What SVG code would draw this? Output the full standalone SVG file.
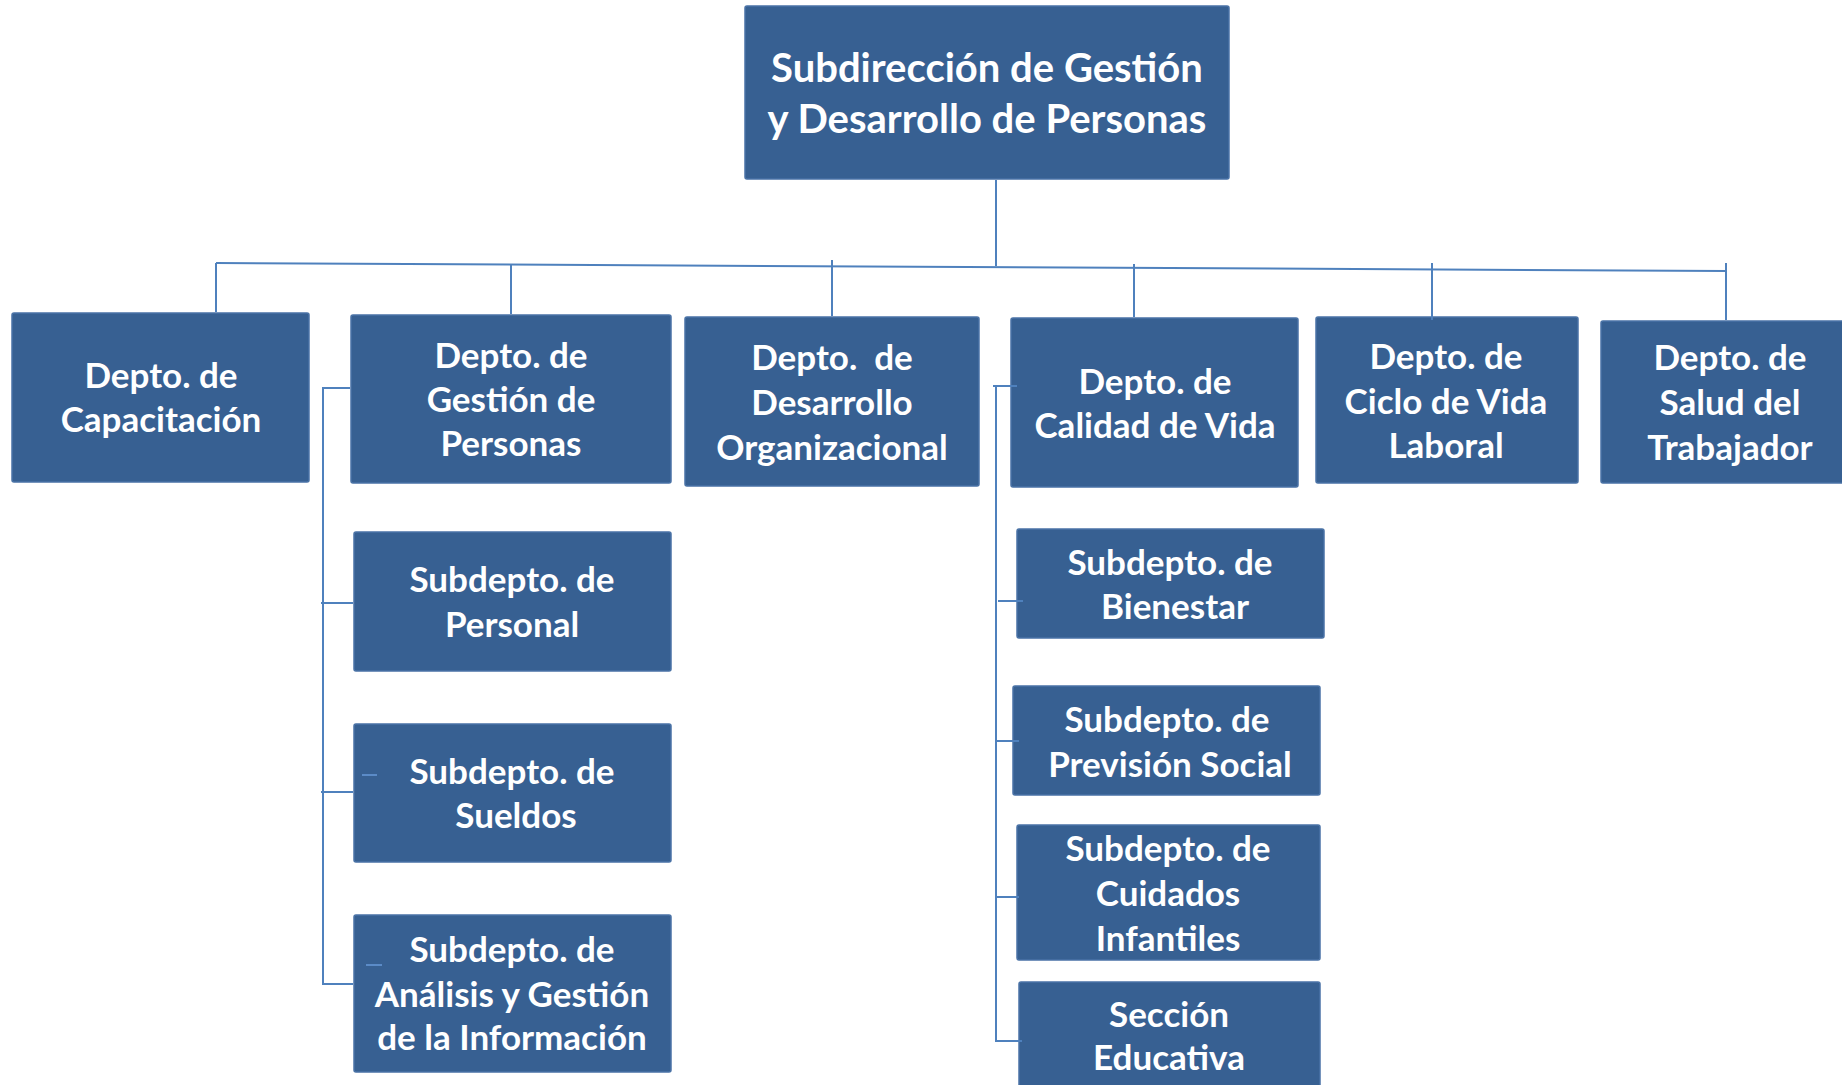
<svg xmlns="http://www.w3.org/2000/svg" width="1842" height="1085" viewBox="0 0 1842 1085">
<style>
.box{fill:#376092;stroke:#4a72a6;stroke-width:1.5}
.t{fill:#ffffff;font-family:Lato,"Open Sans","Liberation Sans",sans-serif;font-weight:bold;font-size:35px;text-anchor:middle}
.tt{font-size:40px}
.c{stroke:#4f81bd;stroke-width:2;fill:none}
.d{stroke:#5b8bc7;stroke-width:2;fill:none}
</style>
<rect width="1842" height="1085" fill="#ffffff"/>
<g id="n0"><rect class="box" x="745" y="6" width="484" height="173" rx="2"/>
<text class="t tt" x="987" y="82">Subdirección de Gestión</text>
<text class="t tt" x="987" y="133">y Desarrollo de Personas</text></g>
<g id="n1"><rect class="box" x="12" y="313" width="297" height="169" rx="2"/>
<text class="t" x="161" y="388">Depto. de</text>
<text class="t" x="161" y="432">Capacitación</text></g>
<g id="n2"><rect class="box" x="351" y="315" width="320" height="168" rx="2"/>
<text class="t" x="511" y="368">Depto. de</text>
<text class="t" x="511" y="412">Gestión de</text>
<text class="t" x="511" y="456">Personas</text></g>
<g id="n3"><rect class="box" x="685" y="317" width="294" height="169" rx="2"/>
<text class="t" x="832" y="370" xml:space="preserve">Depto.  de</text>
<text class="t" x="832" y="415">Desarrollo</text>
<text class="t" x="832" y="460">Organizacional</text></g>
<g id="n4"><rect class="box" x="1011" y="318" width="287" height="169" rx="2"/>
<text class="t" x="1155" y="394">Depto. de</text>
<text class="t" x="1155" y="438">Calidad de Vida</text></g>
<g id="n5"><rect class="box" x="1316" y="317" width="262" height="166" rx="2"/>
<text class="t" x="1446" y="369">Depto. de</text>
<text class="t" x="1446" y="414">Ciclo de Vida</text>
<text class="t" x="1446" y="458">Laboral</text></g>
<g id="n6"><rect class="box" x="1601" y="321" width="250" height="162" rx="2"/>
<text class="t" x="1730" y="370">Depto. de</text>
<text class="t" x="1730" y="415">Salud del</text>
<text class="t" x="1730" y="460">Trabajador</text></g>
<g id="n7"><rect class="box" x="354" y="532" width="317" height="139" rx="2"/>
<text class="t" x="512" y="592">Subdepto. de</text>
<text class="t" x="512" y="637">Personal</text></g>
<g id="n8"><rect class="box" x="354" y="724" width="317" height="138" rx="2"/>
<text class="t" x="512" y="784">Subdepto. de</text>
<text class="t" x="516" y="828">Sueldos</text></g>
<g id="n9"><rect class="box" x="354" y="915" width="317" height="157" rx="2"/>
<text class="t" x="512" y="962">Subdepto. de</text>
<text class="t" x="512" y="1007">Análisis y Gestión</text>
<text class="t" x="512" y="1050">de la Información</text></g>
<g id="n10"><rect class="box" x="1017" y="529" width="307" height="109" rx="2"/>
<text class="t" x="1170" y="575">Subdepto. de</text>
<text class="t" x="1175" y="619">Bienestar</text></g>
<g id="n11"><rect class="box" x="1013" y="686" width="307" height="109" rx="2"/>
<text class="t" x="1167" y="732">Subdepto. de</text>
<text class="t" x="1170" y="777">Previsión Social</text></g>
<g id="n12"><rect class="box" x="1017" y="825" width="303" height="135" rx="2"/>
<text class="t" x="1168" y="861">Subdepto. de</text>
<text class="t" x="1168" y="906">Cuidados</text>
<text class="t" x="1168" y="951">Infantiles</text></g>
<g id="n13"><rect class="box" x="1019" y="982" width="301" height="110" rx="2"/>
<text class="t" x="1169" y="1027">Sección</text>
<text class="t" x="1169" y="1070">Educativa</text></g>
<g id="connectors">
<line class="c" x1="996" y1="180" x2="996" y2="266"/>
<line class="c" x1="216" y1="263" x2="1726" y2="271"/>
<line class="c" x1="216" y1="263" x2="216" y2="312"/>
<line class="c" x1="511" y1="264" x2="511" y2="314"/>
<line class="c" x1="832" y1="260" x2="832" y2="316"/>
<line class="c" x1="1134" y1="264" x2="1134" y2="317"/>
<line class="c" x1="1432" y1="263" x2="1432" y2="320"/>
<line class="c" x1="1726" y1="263" x2="1726" y2="320"/>
<path class="c" d="M350 388 H323 V984 H353"/>
<line class="c" x1="321" y1="603" x2="353" y2="603"/>
<line class="c" x1="321" y1="792" x2="353" y2="792"/>
<line class="d" x1="362" y1="775" x2="377" y2="775"/>
<line class="d" x1="366" y1="965" x2="382" y2="965"/>
<path class="c" d="M1017 386 H996 V1041 H1022"/>
<line class="c" x1="993" y1="386" x2="996" y2="386"/>
<line class="c" x1="998" y1="601" x2="1023" y2="601"/>
<line class="c" x1="995" y1="741" x2="1019" y2="741"/>
<line class="c" x1="995" y1="897" x2="1019" y2="897"/>
</g>
</svg>
